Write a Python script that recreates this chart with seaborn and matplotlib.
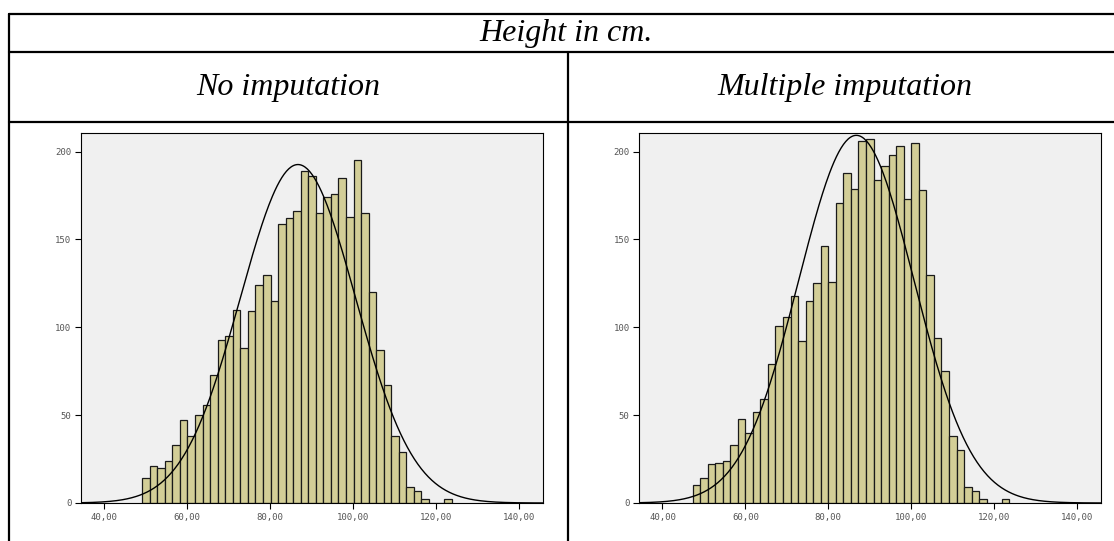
import numpy as np
import pandas as pd
import matplotlib
matplotlib.use("Agg")
import matplotlib.pyplot as plt
import seaborn as sns
from matplotlib.lines import Line2D
from matplotlib.ticker import FuncFormatter

# ---- data ----
title = "Height in cm."
panel_titles = ["No imputation", "Multiple imputation"]

bin_width = 1.821
first_edge_none = 49.17
first_edge_multi = 47.25

counts_none = [14, 21, 20, 24, 33, 47, 38, 50, 56, 73, 93, 95, 110, 88, 109, 124,
               130, 115, 159, 162, 166, 189, 186, 165, 174, 176, 185, 163, 195, 165,
               120, 87, 67, 38, 29, 9, 7, 2, 0, 0, 2]
counts_multi = [10, 14, 22, 23, 24, 33, 48, 40, 52, 59, 79, 101, 106, 118, 92, 115,
                125, 146, 126, 171, 188, 179, 206, 207, 184, 192, 198, 203, 173, 205,
                178, 130, 94, 75, 38, 30, 9, 7, 2, 0, 0, 2]

curve_mean = [86.75, 86.8]
curve_sd = [13.9, 13.9]

x_ticks = [40, 60, 80, 100, 120, 140]
y_ticks = [0, 50, 100, 150, 200]

# ---- styling ----
sns.set_style("white")
plt.rcParams['font.family'] = ['DejaVu Sans']

W, H = 1114, 541
fig = plt.figure(figsize=(W / 100, H / 100), dpi=100)

bar_color = "#D3CE97"
bg_color = "#F0F0F0"

def fx(px):
    return px / W

def fy(py):
    return 1 - py / H

axes_px = [(81, 542.7), (639.3, 1100.7)]
ytop, ybot = 133, 503

datasets = [(counts_none, first_edge_none), (counts_multi, first_edge_multi)]

for i, ((cnts, e0), (xl, xr)) in enumerate(zip(datasets, axes_px)):
    ax = fig.add_axes([fx(xl), fy(ybot), fx(xr - xl), (ybot - ytop) / H])
    n = len(cnts)
    edges = [float(e0 + bin_width * k) for k in range(n + 1)]
    centers = [(edges[k] + edges[k + 1]) / 2 for k in range(n)]
    df = pd.DataFrame({"height": centers, "count": cnts})
    sns.histplot(data=df, x="height", weights="count", bins=edges, ax=ax,
                 color=bar_color, alpha=1, edgecolor="#1a1a1a", linewidth=0.9)
    total = float(np.sum(cnts))
    xs = np.linspace(34, 146, 400)
    ys = total * bin_width * np.exp(-0.5 * ((xs - curve_mean[i]) / curve_sd[i]) ** 2) / (curve_sd[i] * np.sqrt(2 * np.pi))
    sns.lineplot(x=xs, y=ys, ax=ax, color="black", linewidth=1.0)
    ax.set_facecolor(bg_color)
    ax.set_xlim(34.4, 145.8)
    ax.set_ylim(0, 210.6)
    ax.set_xticks(x_ticks)
    ax.set_yticks(y_ticks)
    ax.xaxis.set_major_formatter(FuncFormatter(lambda v, p: f"{v:.2f}".replace(".", ",")))
    ax.set_xlabel("")
    ax.set_ylabel("")
    for s in ax.spines.values():
        s.set_visible(True)
        s.set_color("black")
        s.set_linewidth(0.8)
    ax.tick_params(axis="both", direction="out", length=4, width=0.8, color="black",
                   labelsize=6.5, labelcolor="#555555", pad=3, left=True, bottom=True)
    for lab in ax.get_xticklabels() + ax.get_yticklabels():
        lab.set_family("DejaVu Sans Mono")

# ---- table lines ----
lw = 1.6
def hline(y, x0, x1):
    fig.add_artist(Line2D([fx(x0), fx(x1)], [fy(y), fy(y)], color="black", linewidth=lw))
def vline(x, y0, y1):
    fig.add_artist(Line2D([fx(x), fx(x)], [fy(y0), fy(y1)], color="black", linewidth=lw))

hline(14, 9, W)
hline(51.7, 9, W)
hline(121.7, 9, W)
vline(9, 14, H)
vline(568.3, 51.7, H)

serif = ["Liberation Serif", "DejaVu Serif"]
fig.text(fx(566.5), fy(33), title, ha="center", va="center", fontsize=23,
         style="italic", family=serif, color="black")
fig.text(fx(288.5), fy(87), panel_titles[0], ha="center", va="center", fontsize=23,
         style="italic", family=serif, color="black")
fig.text(fx(845), fy(87), panel_titles[1], ha="center", va="center", fontsize=23,
         style="italic", family=serif, color="black")

fig.savefig("out.png", dpi=100)
